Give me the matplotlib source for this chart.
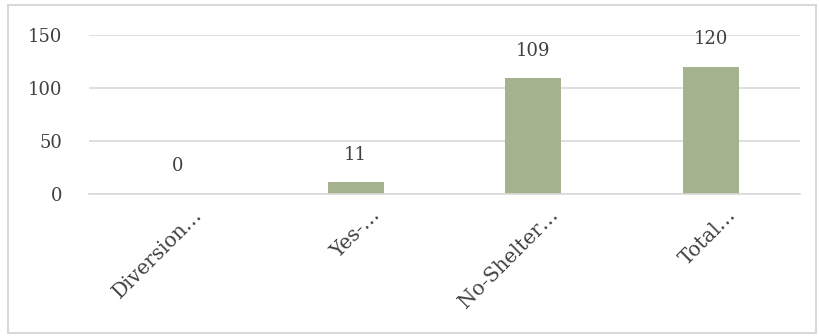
import matplotlib.pyplot as plt
from matplotlib.patches import Rectangle
from matplotlib import transforms

CATEGORIES = ["Diversion…", "Yes-…", "No-Shelter…", "Total…"]
COUNTS = [0, 11, 109, 120]
Y_TICKS = [0, 50, 100, 150]

BAR_COLOR = "#A4B38E"
TEXT_COLOR = "#404040"
GRID_COLOR = "#D9D9D9"


def plot():
    plt.rcParams['font.family'] = ['DejaVu Serif']
    fig = plt.figure(figsize=(8.19, 3.36), dpi=100)
    ax = fig.add_axes([89 / 819, 1 - 194 / 336, 711 / 819, 159 / 336])

    x = range(len(CATEGORIES))
    ax.bar(x, COUNTS, width=0.315, color=BAR_COLOR, zorder=2)

    for xi, v in zip(x, COUNTS):
        ax.annotate(str(v), (xi, v), xytext=(0, 20), textcoords='offset points',
                    ha='center', va='center', fontsize=13, color=TEXT_COLOR)

    ax.set_xlim(-0.5, len(CATEGORIES) - 0.5)
    ax.set_ylim(0, 150)
    ax.set_yticks(Y_TICKS)
    ax.yaxis.grid(True, color=GRID_COLOR, linewidth=1.2, zorder=0)
    ax.tick_params(axis='y', length=0, pad=19, labelsize=13, labelcolor=TEXT_COLOR)
    ax.tick_params(axis='x', length=0, pad=6, labelsize=14.5, labelcolor=TEXT_COLOR)
    ax.set_xticks(list(x))
    ax.set_xticklabels(CATEGORIES, rotation=45, ha='right', rotation_mode='anchor')
    shift = transforms.ScaledTranslation(15 / 100, -3 / 100, fig.dpi_scale_trans)
    for lbl in ax.get_xticklabels():
        lbl.set_transform(lbl.get_transform() + shift)

    for side in ('top', 'right', 'left'):
        ax.spines[side].set_visible(False)
    ax.spines['bottom'].set_color(GRID_COLOR)
    ax.spines['bottom'].set_linewidth(1.2)

    fig.patches.append(Rectangle((8 / 819, 3 / 336), 808 / 819, 328 / 336,
                                 transform=fig.transFigure, fill=False,
                                 edgecolor=GRID_COLOR, linewidth=1.5))

    fig.savefig("out.png", dpi=100)


def main():
    plot()


if __name__ == '__main__':
    main()
